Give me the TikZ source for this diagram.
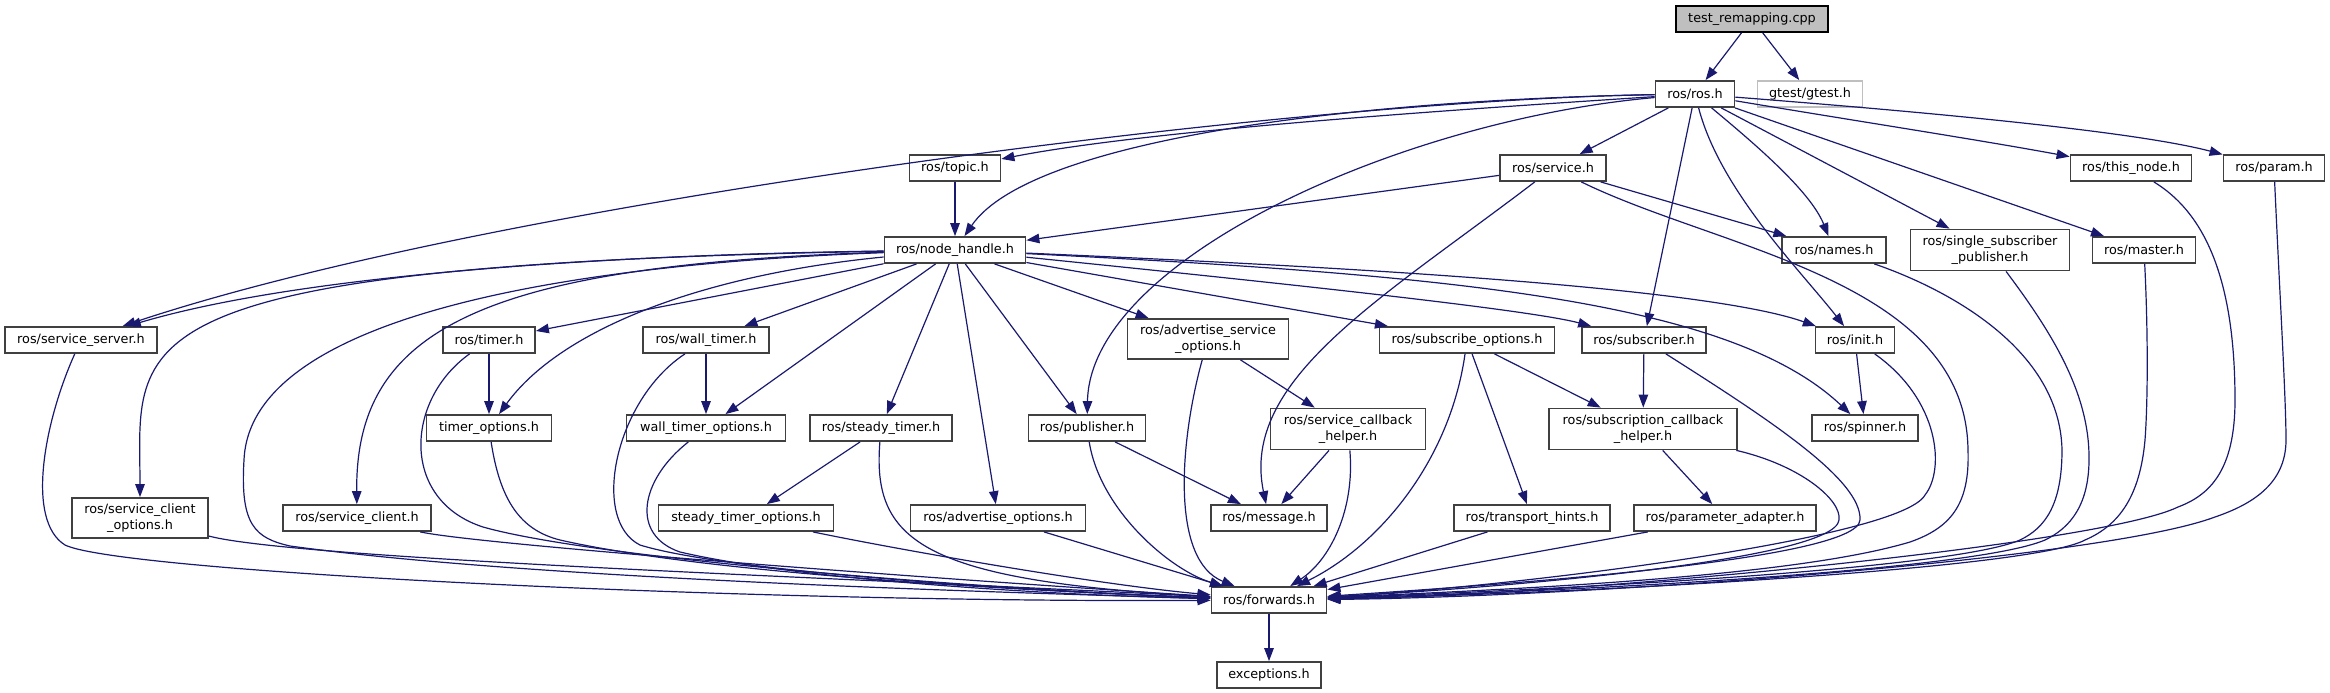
\documentclass[tikz,border=0pt]{standalone}
\usepackage{fontspec}
\setmainfont{DejaVu Sans}
\usetikzlibrary{arrows.meta}
\definecolor{edgec}{HTML}{191970}
\definecolor{boxc}{HTML}{404040}
\definecolor{rootfill}{HTML}{BFBFBF}
\begin{document}
\begin{tikzpicture}[x=1pt,y=-1pt,
  box/.style={draw=boxc, fill=white, line width=1.8pt, font=\fontsize{12.8}{15.5}\selectfont,
    inner sep=0pt, minimum height=26pt, align=center},
  tall/.style={minimum height=41pt},
  e/.style={draw=edgec, line width=1.2pt, -{Triangle[length=13pt,width=9.5pt]}},
]
\useasboundingbox (0,0) rectangle (2330,693);
% row 0
\node[box, fill=rootfill, draw=black, minimum width=152pt] (test) at (1752,19) {test\_remapping.cpp};
% row 1
\node[box, minimum width=79pt] (ros) at (1695,94) {ros/ros.h};
\node[box, draw=rootfill, minimum width=105pt] (gtest) at (1810,94) {gtest/gtest.h};
% row 2
\node[box, minimum width=91pt] (topic) at (955,168) {ros/topic.h};
\node[box, minimum width=106pt] (service) at (1553,168) {ros/service.h};
\node[box, minimum width=121pt] (thisnode) at (2131,168) {ros/this\_node.h};
\node[box, minimum width=101pt] (param) at (2274,168) {ros/param.h};
% row 3
\node[box, minimum width=141pt] (nh) at (955,250) {ros/node\_handle.h};
\node[box, minimum width=104pt] (names) at (1834,250) {ros/names.h};
\node[box, tall, minimum width=159pt] (ssp) at (1990,250) {ros/single\_subscriber\\\_publisher.h};
\node[box, minimum width=103pt] (master) at (2144,250) {ros/master.h};
% row 4
\node[box, minimum width=152pt] (sserver) at (81,340) {ros/service\_server.h};
\node[box, minimum width=92pt] (timer) at (489,340) {ros/timer.h};
\node[box, minimum width=126pt] (wtimer) at (706,340) {ros/wall\_timer.h};
\node[box, tall, minimum height=40pt, minimum width=161pt] (aso) at (1208,339) {ros/advertise\_service\\\_options.h};
\node[box, minimum width=175pt] (subopt) at (1467,340) {ros/subscribe\_options.h};
\node[box, minimum width=124pt] (subscriber) at (1644,340) {ros/subscriber.h};
\node[box, minimum width=79pt] (init) at (1855,340) {ros/init.h};
% row 5
\node[box, minimum width=125pt] (topts) at (489,428) {timer\_options.h};
\node[box, minimum width=159pt] (wtopts) at (706,428) {wall\_timer\_options.h};
\node[box, minimum width=142pt] (stimer) at (881,428) {ros/steady\_timer.h};
\node[box, minimum width=117pt] (pub) at (1087,428) {ros/publisher.h};
\node[box, tall, minimum width=155pt] (sch) at (1348,429) {ros/service\_callback\\\_helper.h};
\node[box, tall, minimum width=188pt] (subcb) at (1643,429) {ros/subscription\_callback\\\_helper.h};
\node[box, minimum width=106pt] (spinner) at (1865,428) {ros/spinner.h};
% row 6
\node[box, tall, minimum height=40pt, minimum width=136pt] (sco) at (140,518) {ros/service\_client\\\_options.h};
\node[box, minimum width=148pt] (sclient) at (357,518) {ros/service\_client.h};
\node[box, minimum width=175pt] (stopts) at (746,518) {steady\_timer\_options.h};
\node[box, minimum width=175pt] (advopts) at (998,518) {ros/advertise\_options.h};
\node[box, minimum width=116pt] (message) at (1269,518) {ros/message.h};
\node[box, minimum width=156pt] (transport) at (1532,518) {ros/transport\_hints.h};
\node[box, minimum width=182pt] (padapter) at (1725,518) {ros/parameter\_adapter.h};
% row 7, 8
\node[box, minimum width=115pt] (fwd) at (1269,600) {ros/forwards.h};
\node[box, minimum width=104pt] (exc) at (1269,675) {exceptions.h};

% ---- edges ----
\draw[e] (test) -- (ros);
\draw[e] (test) -- (gtest);
% from ros.h
\draw[e] (ros) .. controls (1300,100) and (500,200) .. (sserver);
\draw[e] (ros) .. controls (1450,110) and (1150,130) .. (topic);
\draw[e] (ros) .. controls (1350,100) and (1030,140) .. (nh);
\draw[e] (ros) .. controls (1400,120) and (1090,260) .. (pub);
\draw[e] (ros) -- (service);
\draw[e] (ros) -- (subscriber);
\draw[e] (ros) .. controls (1720,190) and (1800,270) .. (init);
\draw[e] (ros) .. controls (1750,140) and (1810,190) .. (names);
\draw[e] (ros) -- (ssp);
\draw[e] (ros) -- (master);
\draw[e] (ros) .. controls (1850,120) and (1980,140) .. (thisnode);
\draw[e] (ros) .. controls (1900,110) and (2130,130) .. (param);
% topic / service
\draw[e] (topic) -- (nh);
\draw[e] (service) -- (nh);
\draw[e] (service) -- (names);
\draw[e] (service) .. controls (1380,300) and (1240,380) .. (message);
\draw[e] (service) .. controls (1720,250) and (1966,280) .. (1968,450)
   .. controls (1970,505) and (1950,528) .. (1910,542)
   .. controls (1800,575) and (1550,588) .. (fwd);
% from node_handle.h
\draw[e] (nh) .. controls (600,255) and (300,275) .. (sserver);
\draw[e] (nh) .. controls (100,265) and (140,340) .. (sco);
\draw[e] (nh) .. controls (550,265) and (250,320) .. (244,460)
   .. controls (240,525) and (255,538) .. (290,546)
   .. controls (500,575) and (900,590) .. (fwd);
\draw[e] (nh) .. controls (480,265) and (355,330) .. (sclient);
\draw[e] (nh) -- (timer);
\draw[e] (nh) .. controls (700,275) and (560,330) .. (topts);
\draw[e] (nh) -- (wtimer);
\draw[e] (nh) -- (wtopts);
\draw[e] (nh) -- (stimer);
\draw[e] (nh) -- (advopts);
\draw[e] (nh) -- (pub);
\draw[e] (nh) -- (aso);
\draw[e] (nh) -- (subopt);
\draw[e] (nh) .. controls (1300,285) and (1530,310) .. (subscriber);
\draw[e] (nh) .. controls (1300,265) and (1700,285) .. (init);
\draw[e] (nh) .. controls (1450,275) and (1730,300) .. (spinner);
% left side to forwards
\draw[e] (sserver) .. controls (45,420) and (25,520) .. (65,545)
   .. controls (120,572) and (750,603) .. (fwd);
\draw[e] (sco) .. controls (300,560) and (900,580) .. (fwd);
\draw[e] (sclient) .. controls (480,545) and (950,580) .. (fwd);
\draw[e] (timer) -- (topts);
\draw[e] (timer) .. controls (405,400) and (400,500) .. (483,527)
   .. controls (600,560) and (1000,590) .. (fwd);
\draw[e] (wtimer) -- (wtopts);
\draw[e] (wtimer) .. controls (615,400) and (590,520) .. (640,545)
   .. controls (720,570) and (1000,590) .. (fwd);
\draw[e] (topts) .. controls (500,500) and (520,530) .. (560,540)
   .. controls (700,572) and (1000,590) .. (fwd);
\draw[e] (wtopts) .. controls (640,480) and (630,535) .. (680,552)
   .. controls (800,580) and (1050,595) .. (fwd);
\draw[e] (stimer) -- (stopts);
\draw[e] (stimer) .. controls (872,540) and (920,580) .. (fwd);
\draw[e] (stopts) .. controls (900,550) and (1100,585) .. (fwd);
\draw[e] (advopts) -- (fwd);
\draw[e] (pub) -- (message);
\draw[e] (pub) .. controls (1100,510) and (1170,570) .. (fwd);
\draw[e] (aso) -- (sch);
\draw[e] (aso) .. controls (1180,440) and (1170,560) .. (fwd);
\draw[e] (sch) -- (message);
\draw[e] (sch) .. controls (1355,510) and (1330,560) .. (fwd);
% right side to forwards
\draw[e] (subopt) .. controls (1450,460) and (1380,545) .. (fwd);
\draw[e] (subopt) -- (transport);
\draw[e] (subopt) -- (subcb);
\draw[e] (transport) -- (fwd);
\draw[e] (subscriber) -- (subcb);
\draw[e] (subscriber) .. controls (1770,420) and (1862,480) .. (1860,520)
   .. controls (1858,560) and (1500,585) .. (fwd);
\draw[e] (subcb) -- (padapter);
\draw[e] (subcb) .. controls (1800,465) and (1842,500) .. (1839,520)
   .. controls (1835,560) and (1500,588) .. (fwd);
\draw[e] (padapter) -- (fwd);
\draw[e] (init) -- (spinner);
\draw[e] (init) .. controls (1940,400) and (1945,470) .. (1925,495)
   .. controls (1900,540) and (1500,588) .. (fwd);
\draw[e] (names) .. controls (1950,290) and (2060,350) .. (2062,450)
   .. controls (2062,505) and (2045,528) .. (2020,540)
   .. controls (1950,570) and (1550,590) .. (fwd);
\draw[e] (ssp) .. controls (2050,330) and (2088,390) .. (2089,455)
   .. controls (2090,505) and (2070,528) .. (2045,540)
   .. controls (1970,572) and (1550,592) .. (fwd);
\draw[e] (master) .. controls (2148,330) and (2148,400) .. (2145,440)
   .. controls (2140,495) and (2120,525) .. (2085,540)
   .. controls (2030,570) and (1560,594) .. (fwd);
\draw[e] (thisnode) .. controls (2200,210) and (2235,270) .. (2235,400)
   .. controls (2235,470) and (2210,495) .. (2178,507)
   .. controls (2100,545) and (1580,595) .. (fwd);
\draw[e] (param) .. controls (2280,300) and (2286,400) .. (2286,440)
   .. controls (2286,485) and (2250,505) .. (2215,517)
   .. controls (2100,560) and (1580,597) .. (fwd);
\draw[e] (fwd) -- (exc);
\end{tikzpicture}
\end{document}
